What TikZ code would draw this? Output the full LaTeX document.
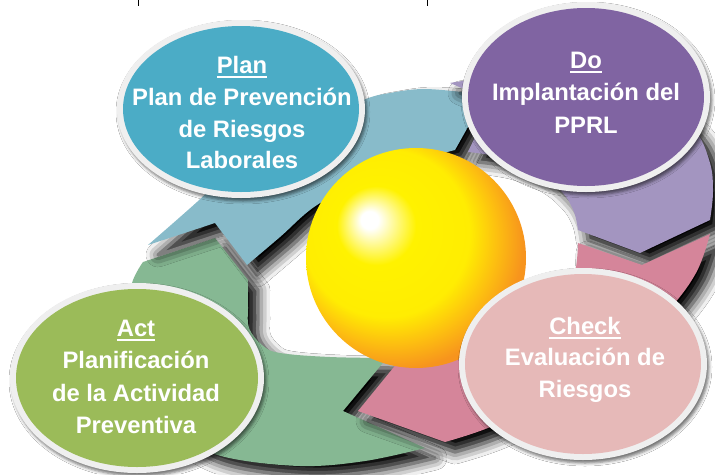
\documentclass[tikz,border=0pt]{standalone}
\usepackage{fontspec}
\setmainfont{Liberation Sans}
\usetikzlibrary{shapes.geometric,shadows,shadows.blur}

\definecolor{planC}{HTML}{4BACC6}
\definecolor{doC}{HTML}{8064A2}
\definecolor{checkC}{HTML}{E6B9B8}
\definecolor{actC}{HTML}{9BBB59}
\definecolor{bordC}{HTML}{EFEFEF}
\definecolor{ringT}{HTML}{88BBCA}
\definecolor{ringP}{HTML}{A395C0}
\definecolor{ringK}{HTML}{D5859A}
\definecolor{ringG}{HTML}{86B893}
\definecolor{sphY}{HTML}{FFF200}
\definecolor{sphG}{HTML}{FDC010}
\definecolor{sphO}{HTML}{F7941D}

\pgfdeclareradialshading{sphereshade}{\pgfpoint{-11bp}{9bp}}{%
  color(0bp)=(white); color(2bp)=(white); color(9bp)=(sphY);
  color(19bp)=(sphY!90!sphG); color(24bp)=(sphG); color(29bp)=(sphO);
  color(50bp)=(sphO)}

\newcommand\myul[1]{\setbox0\hbox{#1}\rlap{\rule[-5pt]{\wd0}{2pt}}\box0}

\tikzset{
  ringpiece/.style={blur shadow={shadow xshift=10pt, shadow yshift=-10pt,
      shadow blur radius=12pt, shadow opacity=100}},
  bubbleborder/.style={ellipse, fill=bordC, inner sep=0pt,
      blur shadow={shadow xshift=2pt, shadow yshift=-3pt,
      shadow blur radius=3pt, shadow opacity=55}},
  bubble/.style={ellipse, inner sep=0pt},
  lbl/.style={text=white, font=\fontsize{23.8}{30}\selectfont\bfseries,
      inner sep=0pt, anchor=base},
  tick/.style={line width=0.9pt, black}
}

\begin{document}
\begin{tikzpicture}[x=1pt,y=-1pt]
\useasboundingbox (0,0) rectangle (715,474);
\fill[white] (0,0) rectangle (715,474);

% top ticks
\coordinate (t1a) at (138,0); \coordinate (t1b) at (138,6);
\coordinate (t2a) at (427,0); \coordinate (t2b) at (427,6);
\draw[tick] (t1a) -- (t1b);
\draw[tick] (t2a) -- (t2b);

% ring: green (Act side)
\path[ringpiece, fill=ringG]
  (425,448) -- (343,411) -- (387,358)
  -- plot[smooth,tension=0.6] coordinates {(387,358) (330,357) (280,353) (262,345) (249,328) (248,307) (248,280)}
  -- (215,238) -- (143,262)
  -- plot[smooth,tension=0.6] coordinates {(143,262) (132,283) (126,320) (130,360) (148,405) (180,437) (225,457) (300,466) (365,461) (425,448)}
  -- cycle;

% ring: teal (Plan side)
\path[ringpiece, fill=ringT]
  (148,245) -- (215,223) -- (247,265)
  -- plot[smooth,tension=0.6] coordinates {(247,265) (280,237) (317,205) (370,178) (420,160) (455,150)}
  -- (482,102) -- (462,92)
  -- plot[smooth,tension=0.6] coordinates {(462,92) (423,89) (390,93) (363,100) (300,127) (240,162) (197,202) (148,245)}
  -- cycle;

% ring: purple (Do side)
\path[ringpiece, fill=ringP]
  (450,83) -- (492,101) -- (468,152)
  -- plot[smooth,tension=0.6] coordinates {(468,152) (505,158) (540,173) (563,193) (574,212) (578,230)}
  -- (640,253) -- (710,220)
  -- plot[smooth,tension=0.6] coordinates {(710,220) (713,192) (710,163) (695,130) (662,103) (612,84) (555,75) (500,76) (450,83)}
  -- cycle;

% ring: pink (Check side)
\path[ringpiece, fill=ringK]
  (710,234) -- (642,265) -- (578,243)
  -- plot[smooth,tension=0.6] coordinates {(578,243) (574,276) (556,310) (522,337) (466,356) (398,362)}
  -- (358,411) -- (445,442)
  -- plot[smooth,tension=0.6] coordinates {(445,442) (488,428) (555,398) (618,358) (666,313) (696,273) (710,234)}
  -- cycle;

% central sphere
\node[circle, minimum size=220pt, inner sep=0pt, shading=sphereshade] (sun) at (416,258) {};

% bubbles
\node[bubbleborder, minimum width=248pt, minimum height=178pt] (planB) at (241,109) {};
\node[bubble, fill=planC, minimum width=236pt, minimum height=166pt] (planE) at (241,109) {};
\node[bubbleborder, minimum width=248pt, minimum height=190pt] (doB) at (586,97) {};
\node[bubble, fill=doC, minimum width=236pt, minimum height=178pt] (doE) at (586,97) {};
\node[bubbleborder, minimum width=248pt, minimum height=192pt] (checkB) at (583,364) {};
\node[bubble, fill=checkC, minimum width=236pt, minimum height=180pt] (checkE) at (583,364) {};
\node[bubbleborder, minimum width=254pt, minimum height=190pt] (actB) at (137,378) {};
\node[bubble, fill=actC, minimum width=242pt, minimum height=178pt] (actE) at (137,378) {};

% texts
\node[lbl] (planT1) at (242,73) {\myul{Plan}};
\node[lbl] (planT2) at (242,105) {Plan de Prevención};
\node[lbl] (planT3) at (242,137) {de Riesgos};
\node[lbl] (planT4) at (242,168) {Laborales};

\node[lbl] (doT1) at (586,68) {\myul{Do}};
\node[lbl] (doT2) at (586,100.5) {Implantación del};
\node[lbl] (doT3) at (586,133) {PPRL};

\node[lbl] (checkT1) at (585,334) {\myul{Check}};
\node[lbl] (checkT2) at (585,365.5) {Evaluación de};
\node[lbl] (checkT3) at (585,397) {Riesgos};

\node[lbl] (actT1) at (136,336) {\myul{Act}};
\node[lbl] (actT2) at (136,368) {Planificación};
\node[lbl] (actT3) at (136,401) {de la Actividad};
\node[lbl] (actT4) at (136,433) {Preventiva};
\end{tikzpicture}
\end{document}
